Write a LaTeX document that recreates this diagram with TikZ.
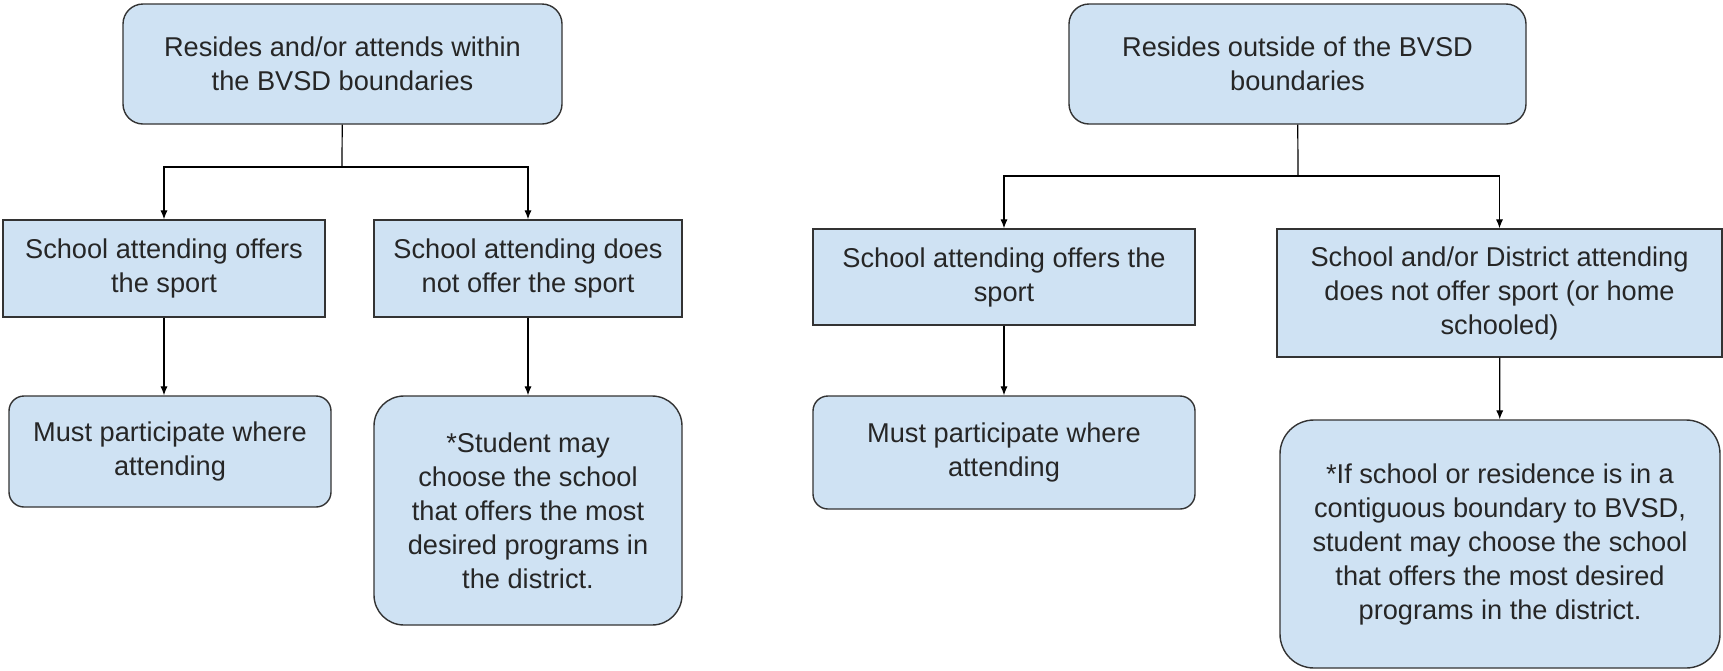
\documentclass[tikz,border=0pt]{standalone}
\usepackage{fontspec}
\setmainfont{Liberation Sans}
\usetikzlibrary{arrows.meta}
\definecolor{boxblue}{HTML}{CFE2F3}
\definecolor{boxline}{HTML}{333333}

\begin{document}
\begin{tikzpicture}[x=0.5pt, y=-0.5pt, every node/.style={draw=boxline, fill=boxblue, align=center, inner sep=0pt, line width=0.7pt, text=black!85, font=\fontsize{13.6}{17}\selectfont}, every path/.style={-{Latex[length=4.5pt,width=3.6pt]}, line width=0.6pt}]
        \useasboundingbox (0,0) rectangle (1723,670);

        % within the boundaries
        \node[rounded corners=10pt, minimum width=219.5pt, minimum height=60pt] (within) at (342.5,64) {Resides and/or attends within\\the BVSD boundaries};
        \node[minimum width=161pt, minimum height=48.5pt] (inoffer) at (164,268.5) {School attending offers\\the sport};
        \node[minimum width=154pt, minimum height=48.5pt] (innooffer) at (528,268.5) {School attending does\\not offer the sport};
        \node[rounded corners=7.5pt, minimum width=161pt, minimum height=55.5pt] (inmust) at (170,451.5) {Must participate where\\attending};
        \node[rounded corners=15pt, minimum width=154pt, minimum height=114.5pt] (inchoose) at (528,510.5) {*Student may\\choose the school\\that offers the most\\desired programs in\\the district.};
        \coordinate (insplit) at (342,167);

        % outside the boundaries
        \node[rounded corners=10pt, minimum width=228.5pt, minimum height=60pt] (outside) at (1297.5,64) {Resides outside of the BVSD\\boundaries};
        \node[minimum width=191pt, minimum height=48pt] (outoffer) at (1004,277) {School attending offers the\\sport};
        \node[minimum width=222.5pt, minimum height=64pt] (outnooffer) at (1499.5,293) {School and/or District attending\\does not offer sport (or home\\schooled)};
        \node[rounded corners=7.5pt, minimum width=191pt, minimum height=56.5pt] (outmust) at (1004,452.5) {Must participate where\\attending};
        \node[rounded corners=17pt, minimum width=220pt, minimum height=124pt] (outchoose) at (1500,544) {*If school or residence is in a\\contiguous boundary to BVSD,\\student may choose the school\\that offers the most desired\\programs in the district.};
        \coordinate (outsplit) at (1298,176);

        \draw[-] (within) -- (insplit);
        \draw (insplit) -| (inoffer);
        \draw (insplit) -| (innooffer);
        \draw (inoffer) -- (inoffer |- inmust.north);
        \draw (innooffer) -- (inchoose);

        \draw[-] (outside) -- (outsplit);
        \draw (outsplit) -| (outoffer);
        \draw (outsplit) -| (outnooffer);
        \draw (outoffer) -- (outmust);
        \draw (outnooffer) -- (outchoose);
    \end{tikzpicture}
\end{document}
